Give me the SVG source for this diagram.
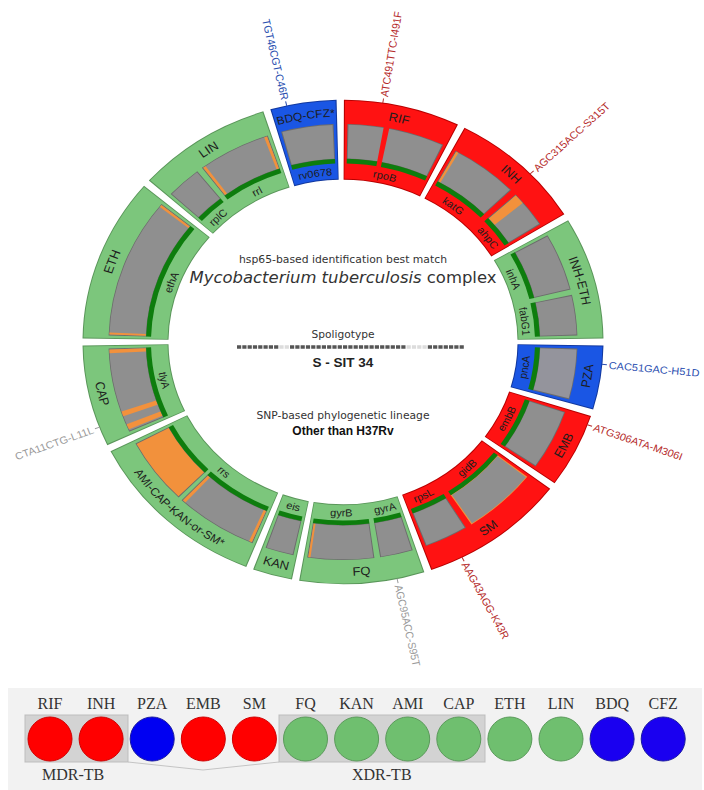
<svg xmlns="http://www.w3.org/2000/svg" width="704" height="790" viewBox="0 0 704 790">
<style>
text{font-family:"Liberation Sans",Arial,sans-serif}
.o{fill:none;stroke-width:86}
.f{fill:none;stroke-width:84}
.G{stroke:#7cc67c}.Go{stroke:#5a965a}
.R{stroke:#ff1212}.Ro{stroke:#b80000}
.B{stroke:#1a56e4}.Bo{stroke:#12389e}
.gu{fill:none;stroke:#6c6c6c;stroke-width:38}
.gy{fill:none;stroke:#8f8f8f;stroke-width:36.4}
.gp{fill:none;stroke:#94949c;stroke-width:36.4}
.gl{fill:none;stroke:#0d7d0d;stroke-width:5}
.or{fill:none;stroke:#f2913c;stroke-width:36.4}
.ou{fill:none;stroke:#f2913c;stroke-width:38}
.rb{fill:none;stroke:#ff1212;stroke-width:44}
.sl{font-size:13px;fill:#1d1d1d}
.sm{font-size:12px;fill:#1d1d1d}
.gn{font-size:11px;fill:#1d1d1d}
.ml{font-size:11px}
.mr{fill:#b52b2b}.mb{fill:#2b4fb0}.mg{fill:#9a9a9a}
.tk{stroke-width:1}
.ct{font-family:"DejaVu Sans",sans-serif;fill:#333}
.lg{font-family:"Liberation Serif","Times New Roman",serif;font-size:16px;fill:#333}
</style>
<defs>
<path id="cwO" d="M0,242.4A242.4,242.4 0 1 1 0,-242.4A242.4,242.4 0 1 1 0,242.4"/>
<path id="ccwO" d="M0,-251.6A251.6,251.6 0 1 0 0,251.6A251.6,251.6 0 1 0 0,-251.6"/>
<path id="cwI" d="M0,179.5A179.5,179.5 0 1 1 0,-179.5A179.5,179.5 0 1 1 0,179.5"/>
<path id="ccwI" d="M0,-187.5A187.5,187.5 0 1 0 0,187.5A187.5,187.5 0 1 0 0,-187.5"/>
</defs>
<rect width="704" height="790" fill="#fff"/>
<g id="ring" transform="translate(343,342) scale(1,0.93)">
<g id="seg-RIF">
<circle class="o Ro" r="217.5" pathLength="360" stroke-dasharray="26 360" transform="rotate(-89.8)"/>
<circle class="f R" r="217.5" pathLength="360" stroke-dasharray="25.5 360" transform="rotate(-89.55)"/>
<circle class="gu" r="215.5" pathLength="360" stroke-dasharray="24.2 360" transform="rotate(-88.9)"/>
<circle class="gy" r="215.5" pathLength="360" stroke-dasharray="23.7 360" transform="rotate(-88.65)"/>
<circle class="gl" r="194.5" pathLength="360" stroke-dasharray="24.2 360" transform="rotate(-88.9)"/>
<circle class="rb" r="213" pathLength="360" stroke-dasharray="1.4 360" transform="rotate(-80)"/>
<text class="sl"><textPath href="#cwO" startOffset="53.67%" text-anchor="middle">RIF</textPath></text>
<text class="gn"><textPath href="#cwI" startOffset="53.67%" text-anchor="middle">rpoB</textPath></text>
</g>
<g id="seg-INH">
<circle class="o Ro" r="217.5" pathLength="360" stroke-dasharray="30.4 360" transform="rotate(-62.2)"/>
<circle class="f R" r="217.5" pathLength="360" stroke-dasharray="29.9 360" transform="rotate(-61.95)"/>
<circle class="gu" r="215.5" pathLength="360" stroke-dasharray="17.1 360" transform="rotate(-61.3)"/>
<circle class="gy" r="215.5" pathLength="360" stroke-dasharray="16.6 360" transform="rotate(-61.05)"/>
<circle class="or" r="215.5" pathLength="360" stroke-dasharray="0.65 360" transform="rotate(-61.05)"/>
<circle class="gl" r="194.5" pathLength="360" stroke-dasharray="17.1 360" transform="rotate(-61.3)"/>
<circle class="gu" r="215.5" pathLength="360" stroke-dasharray="9.9 360" transform="rotate(-42.6)"/>
<circle class="gy" r="215.5" pathLength="360" stroke-dasharray="9.4 360" transform="rotate(-42.35)"/>
<circle class="or" r="215.5" pathLength="360" stroke-dasharray="2.65 360" transform="rotate(-42.35)"/>
<circle class="gl" r="194.5" pathLength="360" stroke-dasharray="9.9 360" transform="rotate(-42.6)"/>
<text class="sl"><textPath href="#cwO" startOffset="61.94%" text-anchor="middle">INH</textPath></text>
<text class="gn"><textPath href="#cwI" startOffset="60.28%" text-anchor="middle">katG</textPath></text>
<text class="gn"><textPath href="#cwI" startOffset="64.53%" text-anchor="middle">ahpC</textPath></text>
</g>
<g id="seg-INH-ETH">
<circle class="o Go" r="217.5" pathLength="360" stroke-dasharray="29.4 360" transform="rotate(-30.2)"/>
<circle class="f G" r="217.5" pathLength="360" stroke-dasharray="28.9 360" transform="rotate(-29.95)"/>
<circle class="gu" r="215.5" pathLength="360" stroke-dasharray="15.4 360" transform="rotate(-29.3)"/>
<circle class="gy" r="215.5" pathLength="360" stroke-dasharray="14.9 360" transform="rotate(-29.05)"/>
<circle class="gl" r="194.5" pathLength="360" stroke-dasharray="15.4 360" transform="rotate(-29.3)"/>
<circle class="gu" r="215.5" pathLength="360" stroke-dasharray="10.8 360" transform="rotate(-12.5)"/>
<circle class="gy" r="215.5" pathLength="360" stroke-dasharray="10.3 360" transform="rotate(-12.25)"/>
<circle class="gl" r="194.5" pathLength="360" stroke-dasharray="10.8 360" transform="rotate(-12.5)"/>
<text class="sl"><textPath href="#cwO" startOffset="70.69%" text-anchor="middle">INH-ETH</textPath></text>
<text class="gn"><textPath href="#cwI" startOffset="69%" text-anchor="middle">inhA</textPath></text>
<text class="gn"><textPath href="#cwI" startOffset="73.06%" text-anchor="middle">fabG1</textPath></text>
</g>
<g id="seg-PZA">
<circle class="o Bo" r="217.5" pathLength="360" stroke-dasharray="15.4 360" transform="rotate(0.8)"/>
<circle class="f B" r="217.5" pathLength="360" stroke-dasharray="14.9 360" transform="rotate(1.05)"/>
<circle class="gu" r="215.5" pathLength="360" stroke-dasharray="13.6 360" transform="rotate(1.7)"/>
<circle class="gp" r="215.5" pathLength="360" stroke-dasharray="13.1 360" transform="rotate(1.95)"/>
<circle class="gl" r="194.5" pathLength="360" stroke-dasharray="13.6 360" transform="rotate(1.7)"/>
<text class="sl"><textPath href="#ccwO" startOffset="72.64%" text-anchor="middle">PZA</textPath></text>
<text class="gn"><textPath href="#ccwI" startOffset="72.64%" text-anchor="middle">pncA</textPath></text>
</g>
<g id="seg-EMB">
<circle class="o Ro" r="217.5" pathLength="360" stroke-dasharray="17.9 360" transform="rotate(17.8)"/>
<circle class="f R" r="217.5" pathLength="360" stroke-dasharray="17.4 360" transform="rotate(18.05)"/>
<circle class="gu" r="215.5" pathLength="360" stroke-dasharray="16.1 360" transform="rotate(18.7)"/>
<circle class="gy" r="215.5" pathLength="360" stroke-dasharray="15.6 360" transform="rotate(18.95)"/>
<circle class="gl" r="194.5" pathLength="360" stroke-dasharray="16.1 360" transform="rotate(18.7)"/>
<text class="sl"><textPath href="#ccwO" startOffset="67.58%" text-anchor="middle">EMB</textPath></text>
<text class="gn"><textPath href="#ccwI" startOffset="67.58%" text-anchor="middle">embB</textPath></text>
</g>
<g id="seg-SM">
<circle class="o Ro" r="217.5" pathLength="360" stroke-dasharray="32.9 360" transform="rotate(37.3)"/>
<circle class="f R" r="217.5" pathLength="360" stroke-dasharray="32.4 360" transform="rotate(37.55)"/>
<circle class="ou" r="215.5" pathLength="360" stroke-dasharray="18.6 360" transform="rotate(38.2)"/>
<circle class="gy" r="215.5" pathLength="360" stroke-dasharray="18 360" transform="rotate(38.5)"/>
<circle class="gl" r="194.5" pathLength="360" stroke-dasharray="18.6 360" transform="rotate(38.2)"/>
<circle class="gu" r="215.5" pathLength="360" stroke-dasharray="10.9 360" transform="rotate(58.4)"/>
<circle class="gy" r="215.5" pathLength="360" stroke-dasharray="10.4 360" transform="rotate(58.65)"/>
<circle class="gl" r="194.5" pathLength="360" stroke-dasharray="10.9 360" transform="rotate(58.4)"/>
<text class="sl"><textPath href="#ccwO" startOffset="60%" text-anchor="middle">SM</textPath></text>
<text class="gn"><textPath href="#ccwI" startOffset="61.81%" text-anchor="middle">gidB</textPath></text>
<text class="gn"><textPath href="#ccwI" startOffset="57.22%" text-anchor="middle">rpsL</textPath></text>
</g>
<g id="seg-FQ">
<circle class="o Go" r="217.5" pathLength="360" stroke-dasharray="27.9 360" transform="rotate(71.8)"/>
<circle class="f G" r="217.5" pathLength="360" stroke-dasharray="27.4 360" transform="rotate(72.05)"/>
<circle class="gu" r="215.5" pathLength="360" stroke-dasharray="8.2 360" transform="rotate(72.7)"/>
<circle class="gy" r="215.5" pathLength="360" stroke-dasharray="7.7 360" transform="rotate(72.95)"/>
<circle class="gl" r="194.5" pathLength="360" stroke-dasharray="8.2 360" transform="rotate(72.7)"/>
<circle class="gu" r="215.5" pathLength="360" stroke-dasharray="16.5 360" transform="rotate(82.3)"/>
<circle class="gy" r="215.5" pathLength="360" stroke-dasharray="16 360" transform="rotate(82.55)"/>
<circle class="or" r="215.5" pathLength="360" stroke-dasharray="0.55 360" transform="rotate(98)"/>
<circle class="gl" r="194.5" pathLength="360" stroke-dasharray="16.5 360" transform="rotate(82.3)"/>
<text class="sl"><textPath href="#ccwO" startOffset="51.19%" text-anchor="middle">FQ</textPath></text>
<text class="gn"><textPath href="#ccwI" startOffset="53.67%" text-anchor="middle">gyrA</textPath></text>
<text class="gn"><textPath href="#ccwI" startOffset="49.86%" text-anchor="middle">gyrB</textPath></text>
</g>
<g id="seg-KAN">
<circle class="o Go" r="217.5" pathLength="360" stroke-dasharray="8.9 360" transform="rotate(101.3)"/>
<circle class="f G" r="217.5" pathLength="360" stroke-dasharray="8.4 360" transform="rotate(101.55)"/>
<circle class="gu" r="215.5" pathLength="360" stroke-dasharray="7.1 360" transform="rotate(102.2)"/>
<circle class="gy" r="215.5" pathLength="360" stroke-dasharray="6.6 360" transform="rotate(102.45)"/>
<circle class="gl" r="194.5" pathLength="360" stroke-dasharray="7.1 360" transform="rotate(102.2)"/>
<text class="sl"><textPath href="#ccwO" startOffset="45.64%" text-anchor="middle">KAN</textPath></text>
<text class="gn"><textPath href="#ccwI" startOffset="45.64%" text-anchor="middle">eis</textPath></text>
</g>
<g id="seg-AMI-CAP-KAN-or-SM">
<circle class="o Go" r="217.5" pathLength="360" stroke-dasharray="41.4 360" transform="rotate(111.8)"/>
<circle class="f G" r="217.5" pathLength="360" stroke-dasharray="40.9 360" transform="rotate(112.05)"/>
<circle class="gu" r="215.5" pathLength="360" stroke-dasharray="20.8 360" transform="rotate(112.7)"/>
<circle class="gy" r="215.5" pathLength="360" stroke-dasharray="20.3 360" transform="rotate(112.95)"/>
<circle class="or" r="215.5" pathLength="360" stroke-dasharray="0.75 360" transform="rotate(112.95)"/>
<circle class="or" r="215.5" pathLength="360" stroke-dasharray="0.85 360" transform="rotate(132.4)"/>
<circle class="gl" r="194.5" pathLength="360" stroke-dasharray="20.8 360" transform="rotate(112.7)"/>
<circle class="gu" r="215.5" pathLength="360" stroke-dasharray="17.8 360" transform="rotate(134.5)"/>
<circle class="or" r="215.5" pathLength="360" stroke-dasharray="17.3 360" transform="rotate(134.75)"/>
<circle class="gl" r="194.5" pathLength="360" stroke-dasharray="17.8 360" transform="rotate(134.5)"/>
<text class="sm"><textPath href="#ccwO" startOffset="38.19%" text-anchor="middle">AMI-CAP-KAN-or-SM*</textPath></text>
<text class="gn"><textPath href="#ccwI" startOffset="38.75%" text-anchor="middle">rrs</textPath></text>
</g>
<g id="seg-CAP">
<circle class="o Go" r="217.5" pathLength="360" stroke-dasharray="24.4 360" transform="rotate(154.8)"/>
<circle class="f G" r="217.5" pathLength="360" stroke-dasharray="23.9 360" transform="rotate(155.05)"/>
<circle class="gu" r="215.5" pathLength="360" stroke-dasharray="22.6 360" transform="rotate(155.7)"/>
<circle class="gy" r="215.5" pathLength="360" stroke-dasharray="22.1 360" transform="rotate(155.95)"/>
<circle class="or" r="215.5" pathLength="360" stroke-dasharray="1.05 360" transform="rotate(177)"/>
<circle class="or" r="215.5" pathLength="360" stroke-dasharray="1.4 360" transform="rotate(160)"/>
<circle class="or" r="215.5" pathLength="360" stroke-dasharray="1.5 360" transform="rotate(156.3)"/>
<circle class="gl" r="194.5" pathLength="360" stroke-dasharray="22.6 360" transform="rotate(155.7)"/>
<text class="sl"><textPath href="#ccwO" startOffset="28.61%" text-anchor="middle">CAP</textPath></text>
<text class="gn"><textPath href="#ccwI" startOffset="28.61%" text-anchor="middle">tlyA</textPath></text>
</g>
<g id="seg-ETH">
<circle class="o Go" r="217.5" pathLength="360" stroke-dasharray="39.4 360" transform="rotate(180.8)"/>
<circle class="f G" r="217.5" pathLength="360" stroke-dasharray="38.9 360" transform="rotate(181.05)"/>
<circle class="gu" r="215.5" pathLength="360" stroke-dasharray="37.6 360" transform="rotate(181.7)"/>
<circle class="gy" r="215.5" pathLength="360" stroke-dasharray="37.1 360" transform="rotate(181.95)"/>
<circle class="or" r="215.5" pathLength="360" stroke-dasharray="0.65 360" transform="rotate(218.4)"/>
<circle class="or" r="215.5" pathLength="360" stroke-dasharray="0.55 360" transform="rotate(181.95)"/>
<circle class="gl" r="194.5" pathLength="360" stroke-dasharray="37.6 360" transform="rotate(181.7)"/>
<text class="sl"><textPath href="#cwO" startOffset="30.69%" text-anchor="middle">ETH</textPath></text>
<text class="gn"><textPath href="#cwI" startOffset="30.69%" text-anchor="middle">ethA</textPath></text>
</g>
<g id="seg-LIN">
<circle class="o Go" r="217.5" pathLength="360" stroke-dasharray="30.4 360" transform="rotate(221.8)"/>
<circle class="f G" r="217.5" pathLength="360" stroke-dasharray="29.9 360" transform="rotate(222.05)"/>
<circle class="gu" r="215.5" pathLength="360" stroke-dasharray="8.9 360" transform="rotate(222.7)"/>
<circle class="gy" r="215.5" pathLength="360" stroke-dasharray="8.4 360" transform="rotate(222.95)"/>
<circle class="gl" r="194.5" pathLength="360" stroke-dasharray="8.9 360" transform="rotate(222.7)"/>
<circle class="gu" r="215.5" pathLength="360" stroke-dasharray="18.3 360" transform="rotate(233)"/>
<circle class="gy" r="215.5" pathLength="360" stroke-dasharray="17.8 360" transform="rotate(233.25)"/>
<circle class="or" r="215.5" pathLength="360" stroke-dasharray="0.75 360" transform="rotate(233.25)"/>
<circle class="or" r="215.5" pathLength="360" stroke-dasharray="0.75 360" transform="rotate(250.3)"/>
<circle class="gl" r="194.5" pathLength="360" stroke-dasharray="18.3 360" transform="rotate(233)"/>
<text class="sl"><textPath href="#cwO" startOffset="40.83%" text-anchor="middle">LIN</textPath></text>
<text class="gn"><textPath href="#cwI" startOffset="38.06%" text-anchor="middle">rplC</textPath></text>
<text class="gn"><textPath href="#cwI" startOffset="42.22%" text-anchor="middle">rrl</textPath></text>
</g>
<g id="seg-BDQ-CFZ">
<circle class="o Bo" r="217.5" pathLength="360" stroke-dasharray="14.8 360" transform="rotate(253.8)"/>
<circle class="f B" r="217.5" pathLength="360" stroke-dasharray="14.3 360" transform="rotate(254.05)"/>
<circle class="gu" r="215.5" pathLength="360" stroke-dasharray="13 360" transform="rotate(254.7)"/>
<circle class="gy" r="215.5" pathLength="360" stroke-dasharray="12.5 360" transform="rotate(254.95)"/>
<circle class="gl" r="194.5" pathLength="360" stroke-dasharray="13 360" transform="rotate(254.7)"/>
<text class="sm"><textPath href="#cwO" startOffset="47.56%" text-anchor="middle">BDQ-CFZ*</textPath></text>
<text class="gn"><textPath href="#cwI" startOffset="47.56%" text-anchor="middle">rv0678</textPath></text>
</g>
<g id="connectors">
<line class="tk" x1="260" y1="0" x2="265" y2="0" stroke="#b52b2b" transform="rotate(-81.2)"/>
<line class="tk" x1="260" y1="0" x2="265" y2="0" stroke="#b52b2b" transform="rotate(-44)"/>
<line class="tk" x1="260" y1="0" x2="265" y2="0" stroke="#2b4fb0" transform="rotate(5.3)"/>
<line class="tk" x1="260" y1="0" x2="265" y2="0" stroke="#b52b2b" transform="rotate(20)"/>
<line class="tk" x1="260" y1="0" x2="265" y2="0" stroke="#b52b2b" transform="rotate(62.8)"/>
<line class="tk" x1="260" y1="0" x2="265" y2="0" stroke="#9a9a9a" transform="rotate(78)"/>
<line class="tk" x1="-260" y1="0" x2="-265" y2="0" stroke="#2b4fb0" transform="rotate(77.5)"/>
<line class="tk" x1="-260" y1="0" x2="-265" y2="0" stroke="#9a9a9a" transform="rotate(-20.6)"/>
</g>
<g id="mutations">
<text class="ml mr" x="267" y="0" dominant-baseline="central" transform="rotate(-81.2)">ATC491TTC-I491F</text>
<text class="ml mr" x="267" y="0" dominant-baseline="central" transform="rotate(-44)">AGC315ACC-S315T</text>
<text class="ml mb" x="267" y="0" dominant-baseline="central" transform="rotate(5.3)">CAC51GAC-H51D</text>
<text class="ml mr" x="267" y="0" dominant-baseline="central" transform="rotate(20)">ATG306ATA-M306I</text>
<text class="ml mr" x="267" y="0" dominant-baseline="central" transform="rotate(62.8)">AAG43AGG-K43R</text>
<text class="ml mg" x="267" y="0" dominant-baseline="central" transform="rotate(78)">AGC95ACC-S95T</text>
<text class="ml mb" x="-267" y="0" text-anchor="end" dominant-baseline="central" transform="rotate(77.5)">TGT46CGT-C46R</text>
<text class="ml mg" x="-267" y="0" text-anchor="end" dominant-baseline="central" transform="rotate(-20.6)">CTA11CTG-L11L</text>
</g>
</g>
<g id="center-info">
<text class="ct" x="343" y="263" text-anchor="middle" font-size="11" textLength="208" lengthAdjust="spacingAndGlyphs">hsp65-based identification best match</text>
<text class="ct" x="343" y="283" text-anchor="middle" font-size="16" fill="#111" textLength="307" lengthAdjust="spacingAndGlyphs"><tspan font-style="italic">Mycobacterium tuberculosis</tspan> complex</text>
<text class="ct" x="343" y="338" text-anchor="middle" font-size="11" textLength="63" lengthAdjust="spacingAndGlyphs">Spoligotype</text>
<g id="spoligo" stroke-width="3.6">
<line x1="237" y1="347" x2="279.4" y2="347" stroke="#555" stroke-dasharray="4.2 1.1"/>
<line x1="279.4" y1="347" x2="290" y2="347" stroke="#dcdcdc" stroke-dasharray="4.2 1.1"/>
<line x1="290" y1="347" x2="406.6" y2="347" stroke="#555" stroke-dasharray="4.2 1.1"/>
<line x1="406.6" y1="347" x2="427.8" y2="347" stroke="#dcdcdc" stroke-dasharray="4.2 1.1"/>
<line x1="427.8" y1="347" x2="464.9" y2="347" stroke="#555" stroke-dasharray="4.2 1.1"/>
</g>
<text x="343" y="367" text-anchor="middle" font-size="13.5" font-weight="bold" fill="#222">S - SIT 34</text>
<text class="ct" x="343" y="419" text-anchor="middle" font-size="11" textLength="173" lengthAdjust="spacingAndGlyphs">SNP-based phylogenetic lineage</text>
<text x="343" y="435" text-anchor="middle" font-size="12" font-weight="bold" fill="#111">Other than H37Rv</text>
</g>
<g id="legend">
<rect x="8" y="688" width="694" height="102" fill="#f2f2f2"/>
<rect x="25" y="715" width="103" height="47" fill="#d3d3d3" stroke="#bdbdbd"/>
<rect x="279" y="715" width="206" height="47" fill="#d3d3d3" stroke="#bdbdbd"/>
<polyline points="128,762 203,770 279,762" fill="none" stroke="#c4c4c4"/>
<g id="lg-RIF"><text class="lg" x="50" y="709" text-anchor="middle">RIF</text><circle cx="50" cy="739" r="22" fill="#ff0000" stroke="#d00000"/></g>
<g id="lg-INH"><text class="lg" x="101.1" y="709" text-anchor="middle">INH</text><circle cx="101.1" cy="739" r="22" fill="#ff0000" stroke="#d00000"/></g>
<g id="lg-PZA"><text class="lg" x="152.2" y="709" text-anchor="middle">PZA</text><circle cx="152.2" cy="739" r="22" fill="#0000f2" stroke="#1a1aa0"/></g>
<g id="lg-EMB"><text class="lg" x="203.3" y="709" text-anchor="middle">EMB</text><circle cx="203.3" cy="739" r="22" fill="#ff0000" stroke="#d00000"/></g>
<g id="lg-SM"><text class="lg" x="254.4" y="709" text-anchor="middle">SM</text><circle cx="254.4" cy="739" r="22" fill="#ff0000" stroke="#d00000"/></g>
<g id="lg-FQ"><text class="lg" x="305.5" y="709" text-anchor="middle">FQ</text><circle cx="305.5" cy="739" r="22" fill="#6fbf6f" stroke="#5a9a5a"/></g>
<g id="lg-KAN"><text class="lg" x="356.6" y="709" text-anchor="middle">KAN</text><circle cx="356.6" cy="739" r="22" fill="#6fbf6f" stroke="#5a9a5a"/></g>
<g id="lg-AMI"><text class="lg" x="407.7" y="709" text-anchor="middle">AMI</text><circle cx="407.7" cy="739" r="22" fill="#6fbf6f" stroke="#5a9a5a"/></g>
<g id="lg-CAP"><text class="lg" x="458.8" y="709" text-anchor="middle">CAP</text><circle cx="458.8" cy="739" r="22" fill="#6fbf6f" stroke="#5a9a5a"/></g>
<g id="lg-ETH"><text class="lg" x="509.9" y="709" text-anchor="middle">ETH</text><circle cx="509.9" cy="739" r="22" fill="#6fbf6f" stroke="#5a9a5a"/></g>
<g id="lg-LIN"><text class="lg" x="561" y="709" text-anchor="middle">LIN</text><circle cx="561" cy="739" r="22" fill="#6fbf6f" stroke="#5a9a5a"/></g>
<g id="lg-BDQ"><text class="lg" x="612.1" y="709" text-anchor="middle">BDQ</text><circle cx="612.1" cy="739" r="22" fill="#1a00f0" stroke="#1a1aa0"/></g>
<g id="lg-CFZ"><text class="lg" x="663.2" y="709" text-anchor="middle">CFZ</text><circle cx="663.2" cy="739" r="22" fill="#1a00f0" stroke="#1a1aa0"/></g>
<text class="lg" x="42" y="780">MDR-TB</text>
<text class="lg" x="352" y="780">XDR-TB</text>
</g>
</svg>
